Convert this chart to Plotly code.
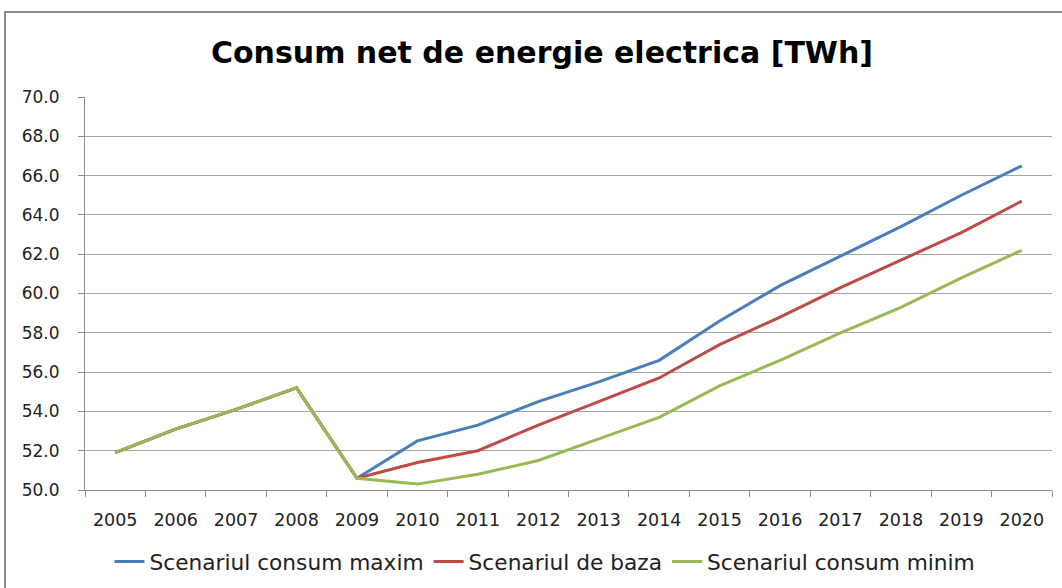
import plotly.graph_objects as go

years = [str(y) for y in range(2005, 2021)]
consum_maxim = [51.9, 53.1, 54.1, 55.2, 50.6, 52.5, 53.3, 54.5, 55.5, 56.6, 58.6, 60.4, 61.9, 63.4, 65.0, 66.5]
scenariu_baza = [51.9, 53.1, 54.1, 55.2, 50.6, 51.4, 52.0, 53.3, 54.5, 55.7, 57.4, 58.8, 60.3, 61.7, 63.1, 64.7]
consum_minim = [51.9, 53.1, 54.1, 55.2, 50.6, 50.3, 50.8, 51.5, 52.6, 53.7, 55.3, 56.6, 58.0, 59.3, 60.8, 62.2]
y_ticks = [50, 52, 54, 56, 58, 60, 62, 64, 66, 68, 70]

series = [
    ("Scenariul consum maxim", consum_maxim, "#4A7EBB"),
    ("Scenariul de baza", scenariu_baza, "#BE4B48"),
    ("Scenariul consum minim", consum_minim, "#98B954"),
]

fig = go.Figure()
for name, vals, color in series:
    fig.add_trace(go.Scatter(x=years, y=vals, name=name, mode="lines",
                             line=dict(color=color, width=3)))

font_family = "DejaVu Sans"
fig.update_layout(
    width=1062, height=588,
    margin=dict(l=85, r=10, t=97, b=98, autoexpand=False),
    paper_bgcolor="white", plot_bgcolor="white",
    title=dict(text="<b>Consum net de energie electrica [TWh]</b>",
               x=542 / 1062, xref="container", xanchor="center",
               y=1 - 52 / 588, yref="container", yanchor="middle",
               font=dict(family=font_family, size=30, color="black")),
    font=dict(family=font_family, size=17, color="#222222"),
    showlegend=True,
    legend=dict(orientation="h", x=545 / 1062, xanchor="center", xref="container",
                y=1 - 562 / 588, yref="container", yanchor="middle",
                font=dict(family=font_family, size=21.7, color="#222222"),
                traceorder="normal"),
    shapes=[dict(type="rect", xref="paper", yref="paper",
                 x0=-0.0827, x1=1.05, y0=-0.4, y1=1.216,
                 line=dict(color="#8C8C8C", width=2), fillcolor="rgba(0,0,0,0)",
                 layer="below")],
)
fig.update_xaxes(type="category", range=[-0.5, 15.5], tickson="boundaries", ticks="outside",
                 ticklen=6, tickcolor="#8C8C8C", showline=True, linecolor="#8C8C8C",
                 linewidth=1, showgrid=False, ticklabelstandoff=14,
                 tickfont=dict(family=font_family, size=17.5, color="#222222"))
fig.update_yaxes(range=[50, 70], tickvals=y_ticks, tickformat=".1f", ticks="outside",
                 ticklen=6, tickcolor="#8C8C8C", showline=True, linecolor="#8C8C8C",
                 linewidth=1, showgrid=True, gridcolor="#A6A6A6", gridwidth=1,
                 zeroline=False, ticklabelstandoff=15,
                 tickfont=dict(family=font_family, size=17, color="#222222"))

fig.write_html("out.html", config={"displayModeBar": False},
               post_script="document.body.style.margin='0';document.body.style.overflow='hidden';")
